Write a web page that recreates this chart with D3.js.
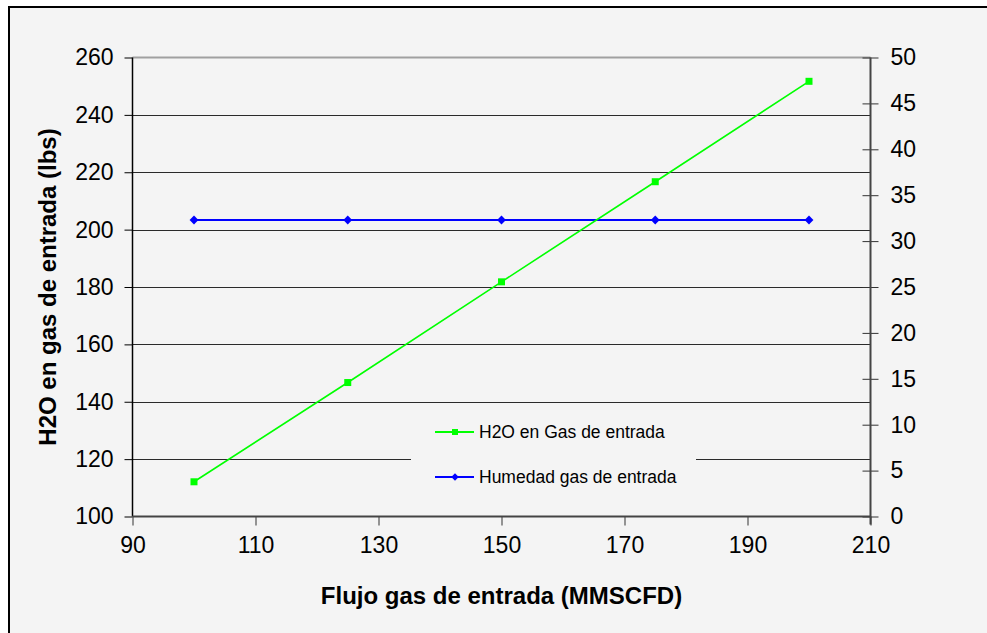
<!DOCTYPE html>
<html>
<head>
<meta charset="utf-8">
<script src="https://cdn.jsdelivr.net/npm/d3@7"></script>
<style>
  body { margin: 0; background: #fff; }
  svg text { font-family: "Liberation Sans", Arial, sans-serif; fill: #000; }
</style>
</head>
<body>
<div id="chart"></div>
<script>
// Data
var flujo = [100, 125, 150, 175, 200];
var h2oEntrada = [112.1, 146.7, 181.8, 216.7, 251.7];
var humedadEntrada = [32.3, 32.3, 32.3, 32.3, 32.3];

var xTicks = [90, 110, 130, 150, 170, 190, 210];
var leftTicks = [100, 120, 140, 160, 180, 200, 220, 240, 260];
var rightTicks = [0, 5, 10, 15, 20, 25, 30, 35, 40, 45, 50];

var seriesNames = ["H2O en Gas de entrada", "Humedad gas de entrada"];

var width = 987,
    height = 633;

var plot = {left: 132.5, right: 870.5, top: 57.5, bottom: 516.5};

var svg = d3.select("#chart")
  .append("svg")
  .attr("width", width)
  .attr("height", height);

// chart area with black frame (runs off the page on right/bottom)
svg.append("rect")
  .attr("x", 9)
  .attr("y", 7)
  .attr("width", 1000)
  .attr("height", 650)
  .style("fill", "#f4f4f4")
  .style("stroke", "#000")
  .style("stroke-width", 2);

var x = d3.scaleLinear().domain([90, 210]).range([plot.left, plot.right]);
var yLeft = d3.scaleLinear().domain([100, 260]).range([plot.bottom, plot.top]);
var yRight = d3.scaleLinear().domain([0, 50]).range([plot.bottom, plot.top]);

// gridlines
svg.append("g")
  .selectAll("line")
  .data(leftTicks.filter(function(d) { return d > 100 && d < 260; }))
  .enter()
  .append("line")
  .attr("x1", plot.left)
  .attr("x2", plot.right)
  .attr("y1", function(d) { return Math.round(yLeft(d)) + 0.5; })
  .attr("y2", function(d) { return Math.round(yLeft(d)) + 0.5; })
  .style("stroke", "#2a2a2a")
  .style("stroke-width", 1);

// top border of plot area
svg.append("line")
  .attr("x1", plot.left)
  .attr("x2", plot.right)
  .attr("y1", plot.top)
  .attr("y2", plot.top)
  .style("stroke", "#a0a0a0")
  .style("stroke-width", 2);

// legend box sits over the gridlines
var legendX = 411, legendY = 408;
svg.append("rect")
  .attr("x", legendX)
  .attr("y", legendY)
  .attr("width", 285)
  .attr("height", 95)
  .style("fill", "#f4f4f4");

// axes
var leftAxis = svg.append("g")
  .attr("transform", "translate(" + plot.left + ",0)")
  .call(d3.axisLeft(yLeft).tickValues(leftTicks).tickSize(8).tickPadding(11));

var rightAxis = svg.append("g")
  .attr("transform", "translate(" + plot.right + ",0)")
  .call(d3.axisRight(yRight).tickValues(rightTicks).tickSize(8).tickPadding(12));

var bottomAxis = svg.append("g")
  .attr("transform", "translate(0," + plot.bottom + ")")
  .call(d3.axisBottom(x).tickValues(xTicks).tickSize(9).tickPadding(11));

[leftAxis, rightAxis, bottomAxis].forEach(function(a) {
  a.select(".domain").remove();
  a.selectAll("text").style("font-size", "23px").style("fill", "#000");
});

leftAxis.selectAll("line").style("stroke", "#000");
bottomAxis.selectAll("line").style("stroke", "#333");
rightAxis.selectAll("line")
  .attr("x1", -8)
  .style("stroke", "#333");

// axis lines
svg.append("line")
  .attr("x1", plot.left).attr("x2", plot.left)
  .attr("y1", plot.top).attr("y2", plot.bottom)
  .style("stroke", "#000").style("stroke-width", 1.5);
svg.append("line")
  .attr("x1", plot.right).attr("x2", plot.right)
  .attr("y1", plot.top).attr("y2", plot.bottom + 8)
  .style("stroke", "#444").style("stroke-width", 2);
svg.append("line")
  .attr("x1", plot.left).attr("x2", plot.right)
  .attr("y1", plot.bottom).attr("y2", plot.bottom)
  .style("stroke", "#444").style("stroke-width", 2);

// axis titles
svg.append("text")
  .attr("transform", "translate(56," + ((plot.top + plot.bottom) / 2) + ")rotate(-90)")
  .attr("text-anchor", "middle")
  .style("font-size", "24px")
  .style("font-weight", "bold")
  .text("H2O en gas de entrada (lbs)");

svg.append("text")
  .attr("x", (plot.left + plot.right) / 2)
  .attr("y", 604)
  .attr("text-anchor", "middle")
  .style("font-size", "24px")
  .style("font-weight", "bold")
  .text("Flujo gas de entrada (MMSCFD)");

// series lines
var lineLeft = d3.line()
  .x(function(d, i) { return x(flujo[i]); })
  .y(function(d) { return yLeft(d); });

var lineRight = d3.line()
  .x(function(d, i) { return x(flujo[i]); })
  .y(function(d) { return yRight(d); });

svg.append("path")
  .datum(humedadEntrada)
  .attr("d", lineRight)
  .style("fill", "none")
  .style("stroke", "#0000ff")
  .style("stroke-width", 2);

svg.append("g")
  .selectAll("path")
  .data(humedadEntrada)
  .enter()
  .append("path")
  .attr("d", d3.symbol().type(d3.symbolDiamond2).size(50))
  .attr("transform", function(d, i) { return "translate(" + x(flujo[i]) + "," + yRight(d) + ")"; })
  .style("fill", "#0000ff");

svg.append("path")
  .datum(h2oEntrada)
  .attr("d", lineLeft)
  .style("fill", "none")
  .style("stroke", "#00ff00")
  .style("stroke-width", 1.6);

svg.append("g")
  .selectAll("rect")
  .data(h2oEntrada)
  .enter()
  .append("rect")
  .attr("x", function(d, i) { return x(flujo[i]) - 3.5; })
  .attr("y", function(d) { return yLeft(d) - 3.5; })
  .attr("width", 7)
  .attr("height", 7)
  .style("fill", "#00ff00");

// legend
var legendColors = ["#00ff00", "#0000ff"];
var legendRows = [432, 477];

var leg = svg.append("g");
seriesNames.forEach(function(name, i) {
  var yy = legendRows[i];
  leg.append("line")
    .attr("x1", 435).attr("x2", 474)
    .attr("y1", yy).attr("y2", yy)
    .style("stroke", legendColors[i])
    .style("stroke-width", 2);
  if (i === 0) {
    leg.append("rect")
      .attr("x", 452).attr("y", yy - 3)
      .attr("width", 6).attr("height", 6)
      .style("fill", legendColors[i]);
  } else {
    leg.append("path")
      .attr("d", d3.symbol().type(d3.symbolDiamond2).size(36))
      .attr("transform", "translate(455," + yy + ")")
      .style("fill", legendColors[i]);
  }
  leg.append("text")
    .attr("x", 479)
    .attr("y", yy + 6)
    .style("font-size", "17.5px")
    .text(name);
});
</script>
</body>
</html>
